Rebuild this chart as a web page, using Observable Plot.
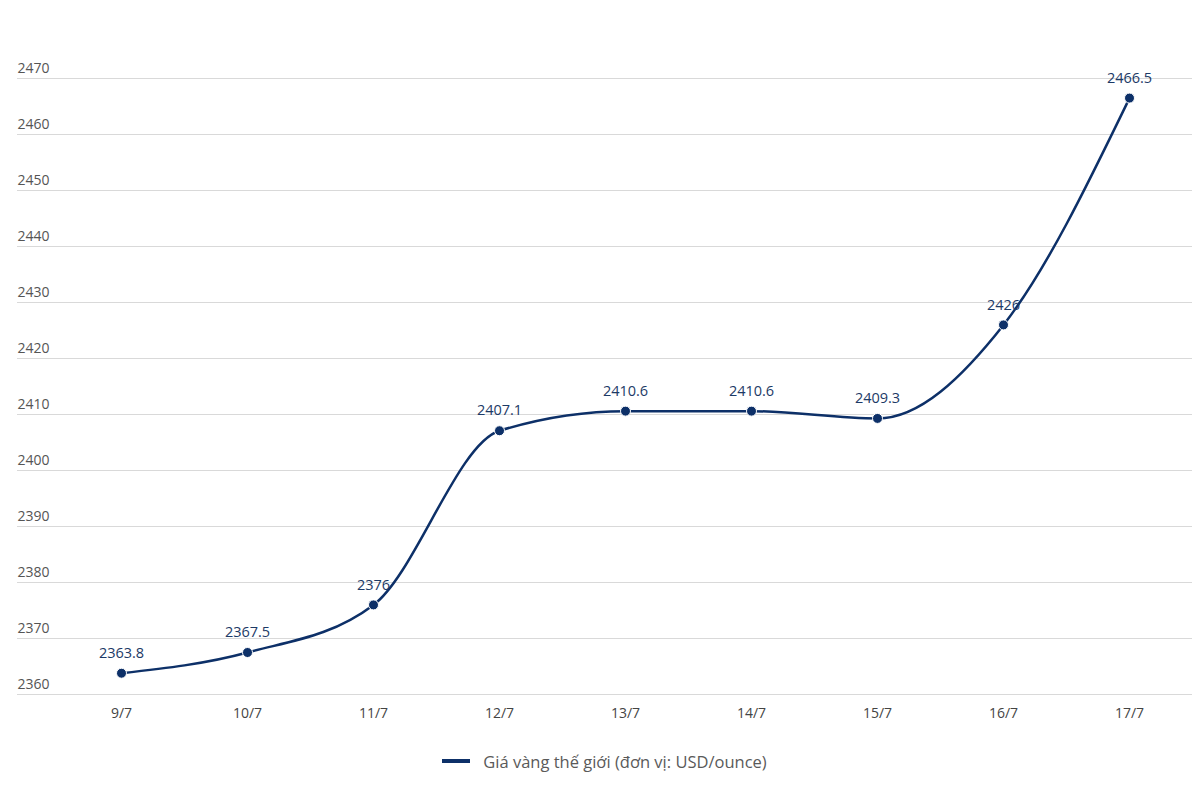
<!DOCTYPE html>
<html>
<head>
<meta charset="utf-8">
<script src="https://cdn.jsdelivr.net/npm/d3@7"></script>
<script src="https://cdn.jsdelivr.net/npm/@observablehq/plot@0.6"></script>
<style>
  html, body { margin: 0; padding: 0; background: #fff; }
  #chart { width: 1192px; }
  .legend { display: flex; justify-content: center; align-items: center; height: 42px; font-family: "Open Sans", sans-serif; font-size: 16.5px; color: #5a5a5a; margin-left: 17px; }
  .legend .swatch { width: 28px; height: 4px; background: #0d3068; margin-right: 13px; }
</style>
</head>
<body>
<div id="chart"></div>
<script>
const dates = ["9/7", "10/7", "11/7", "12/7", "13/7", "14/7", "15/7", "16/7", "17/7"];
const prices = [2363.8, 2367.5, 2376, 2407.1, 2410.6, 2410.6, 2409.3, 2426, 2466.5];
const yTicks = [2360, 2370, 2380, 2390, 2400, 2410, 2420, 2430, 2440, 2450, 2460, 2470];
const seriesName = "Giá vàng thế giới (đơn vị: USD/ounce)";

const data = dates.map((d, i) => ({date: d, price: prices[i]}));
const navy = "#0d3068";

const plot = Plot.plot({
  width: 1192,
  height: 740,
  marginTop: 78,
  marginBottom: 46,
  marginLeft: 17,
  marginRight: 0,
  style: {fontFamily: "'Open Sans', sans-serif", background: "#fff"},
  x: {type: "point", domain: dates, padding: 0.5, insetLeft: 41, label: null},
  y: {domain: [2360, 2470], label: null},
  marks: [
    Plot.ruleY(yTicks, {stroke: "#d9d9d9", strokeWidth: 1}),
    Plot.axisY(yTicks, {anchor: "left", tickSize: 0, tickPadding: 0, textAnchor: "start", dy: -10, fontSize: 14, fill: "#555", label: null, tickFormat: d => String(d)}),
    Plot.axisX({anchor: "bottom", tickSize: 0, tickPadding: 14, fontSize: 14, fill: "#444", label: null}),
    Plot.line(data, {x: "date", y: "price", curve: "monotone-x", stroke: navy, strokeWidth: 2.5}),
    Plot.dot(data, {x: "date", y: "price", r: 5, fill: navy, stroke: "#fff", strokeWidth: 1}),
    Plot.text(data, {x: "date", y: "price", text: d => String(d.price), dy: -20, fontSize: 14.5, fill: "#1c3a66"})
  ]
});
document.getElementById("chart").appendChild(plot);

const legend = document.createElement("div");
legend.className = "legend";
legend.innerHTML = `<span class="swatch"></span><span>${seriesName}</span>`;
document.getElementById("chart").appendChild(legend);
</script>
</body>
</html>
